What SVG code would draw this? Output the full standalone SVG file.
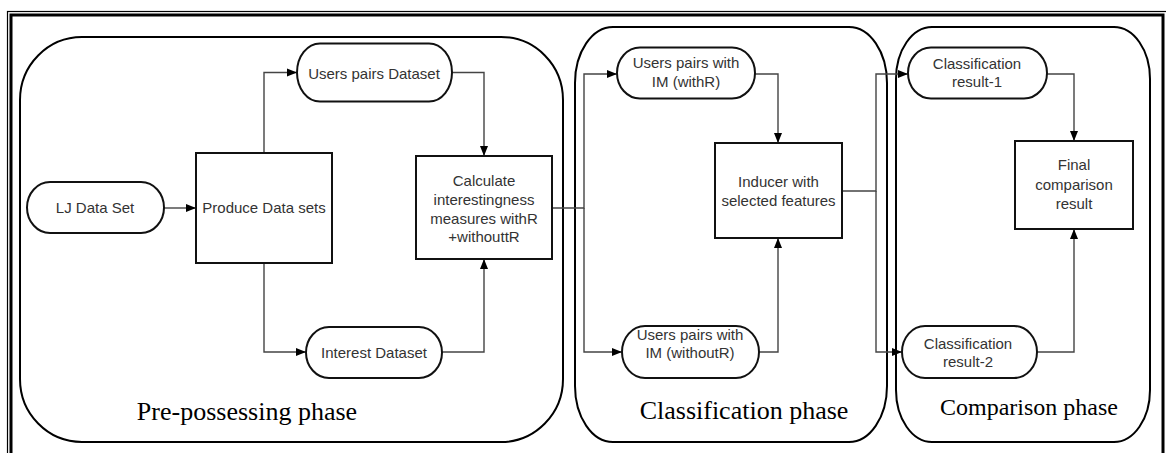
<svg xmlns="http://www.w3.org/2000/svg" width="1166" height="453" viewBox="0 0 1166 453">
<style>
.phase{fill:none;stroke:#000;stroke-width:2}
.node{fill:#fff;stroke:#111;stroke-width:2}
.t{font-family:"Liberation Sans",Arial,sans-serif;font-size:15px;fill:#333;text-anchor:middle}
.ph{font-family:"Liberation Serif","Times New Roman",serif;font-size:26px;fill:#000;text-anchor:middle}
.c{fill:none;stroke:#444;stroke-width:1.4}
</style>
<defs>
<marker id="ah" markerUnits="userSpaceOnUse" markerWidth="10" markerHeight="10" viewBox="0 0 10 10" refX="10" refY="5" orient="auto">
<path d="M0,1 L10,5 L0,9 Z" fill="#000"/>
</marker>
</defs>
<rect width="1166" height="453" fill="#fff"/>
<g id="frame">
<rect x="7.5" y="11.5" width="1170" height="460" fill="none" stroke="#000" stroke-width="1.2"/>
<rect x="11" y="15" width="1152" height="460" fill="none" stroke="#000" stroke-width="3"/>
</g>
<g id="phases">
<rect class="phase" x="20" y="37" width="543" height="405" rx="62" ry="63"/>
<rect class="phase" x="575" y="27" width="312" height="415" rx="38" ry="56"/>
<rect class="phase" x="896" y="27" width="254" height="415" rx="36" ry="52"/>
<text class="ph" x="247" y="420">Pre-possessing phase</text>
<text class="ph" x="744" y="419">Classification phase</text>
<text class="ph" x="1029" y="415" style="font-size:24px">Comparison phase</text>
</g>
<g id="connectors">
<path class="c" d="M164,208 H196" marker-end="url(#ah)"/>
<path class="c" d="M264,153 V72.5 H297" marker-end="url(#ah)"/>
<path class="c" d="M264,263 V352 H306" marker-end="url(#ah)"/>
<path class="c" d="M452,72.5 H484 V156" marker-end="url(#ah)"/>
<path class="c" d="M442,352 H484 V259" marker-end="url(#ah)"/>
<path class="c" d="M552,208 H584 V74 H617" marker-end="url(#ah)"/>
<path class="c" d="M584,208 V352 H622" marker-end="url(#ah)"/>
<path class="c" d="M755,74 H778 V143" marker-end="url(#ah)"/>
<path class="c" d="M759,352 H778 V238" marker-end="url(#ah)"/>
<path class="c" d="M842,191 H876 V74 H908" marker-end="url(#ah)"/>
<path class="c" d="M876,191 V352 H902" marker-end="url(#ah)"/>
<path class="c" d="M1047,74 H1074 V141" marker-end="url(#ah)"/>
<path class="c" d="M1037,352 H1074 V229" marker-end="url(#ah)"/>
</g>
<g id="lj">
<rect class="node" x="27" y="182" width="137" height="51" rx="23" ry="25.5"/>
<text class="t" x="95" y="213">LJ Data Set</text>
</g>
<g id="produce">
<rect class="node" x="196" y="153" width="136" height="110"/>
<text class="t" x="264" y="213">Produce Data sets</text>
</g>
<g id="userspairs">
<rect class="node" x="297" y="43.5" width="155" height="58" rx="23" ry="29"/>
<text class="t" x="374" y="78.5">Users pairs Dataset</text>
</g>
<g id="interest">
<rect class="node" x="306" y="327" width="136" height="51" rx="23" ry="25.5"/>
<text class="t" x="374" y="357.5">Interest Dataset</text>
</g>
<g id="calculate">
<rect class="node" x="416" y="156" width="136" height="103"/>
<text class="t" x="484" y="185.5">Calculate</text>
<text class="t" x="484" y="204.5">interestingness</text>
<text class="t" x="484" y="223.5">measures withR</text>
<text class="t" x="484" y="242">+withouttR</text>
</g>
<g id="withR">
<rect class="node" x="617" y="47.5" width="138" height="51" rx="23" ry="25.5"/>
<text class="t" x="686" y="68">Users pairs with</text>
<text class="t" x="686" y="87">IM (withR)</text>
</g>
<g id="withoutR">
<rect class="node" x="622" y="326" width="137" height="52" rx="23" ry="26"/>
<text class="t" x="690" y="339.5">Users pairs with</text>
<text class="t" x="690" y="357.5">IM (withoutR)</text>
</g>
<g id="inducer">
<rect class="node" x="715" y="143" width="127" height="95"/>
<text class="t" x="778.5" y="187">Inducer with</text>
<text class="t" x="778.5" y="205.5">selected features</text>
</g>
<g id="cr1">
<rect class="node" x="908" y="47.5" width="139" height="51" rx="23" ry="25.5"/>
<text class="t" x="977" y="68.5">Classification</text>
<text class="t" x="977" y="87">result-1</text>
</g>
<g id="cr2">
<rect class="node" x="902" y="326" width="135" height="52" rx="23" ry="26"/>
<text class="t" x="968" y="348.5">Classification</text>
<text class="t" x="968" y="367">result-2</text>
</g>
<g id="final">
<rect class="node" x="1015" y="141" width="118" height="88"/>
<text class="t" x="1074" y="170">Final</text>
<text class="t" x="1074" y="189.5">comparison</text>
<text class="t" x="1074" y="208.5">result</text>
</g>
</svg>
